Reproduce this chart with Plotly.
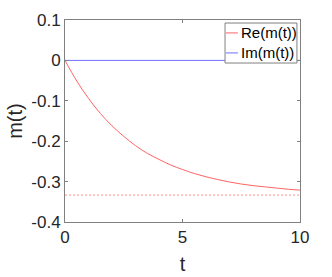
import plotly.graph_objects as go

t_vals = [0, 0.5, 1, 1.5, 2, 2.5, 3, 3.5, 4, 4.5, 5, 5.5, 6, 6.5, 7, 7.5, 8, 8.5, 9, 9.5, 10]
re_vals = [0, -0.051, -0.094, -0.131, -0.162, -0.188, -0.211, -0.230, -0.245, -0.259, -0.270,
           -0.280, -0.288, -0.295, -0.301, -0.306, -0.310, -0.313, -0.316, -0.319, -0.321]
im_vals = [0] * len(t_vals)
asymptote = -0.3333
x_ticks = [0, 5, 10]
y_ticks = [0.1, 0, -0.1, -0.2, -0.3, -0.4]
y_ticklabels = ["0.1", "0", "-0.1", "-0.2", "-0.3", "-0.4"]
legend_names = ["Re(m(t))", "Im(m(t))"]

font_family = "Liberation Sans, Arial, sans-serif"
txt = "#262626"
axc = "#808080"
red = "#ff6464"
blue = "#6e6eff"

fig = go.Figure()
fig.add_trace(go.Scatter(x=t_vals, y=re_vals, mode="lines", name=legend_names[0],
                         showlegend=False, line=dict(color=red, width=1, shape="spline")))
fig.add_trace(go.Scatter(x=t_vals, y=im_vals, mode="lines", name=legend_names[1],
                         showlegend=False, line=dict(color=blue, width=1)))
fig.add_trace(go.Scatter(x=[t_vals[0], t_vals[-1]], y=[asymptote, asymptote], mode="lines",
                         showlegend=False, line=dict(color="#ff9090", width=1, dash="2px,2px")))

# custom MATLAB-style legend box (paper coordinates)
shapes = [dict(type="rect", xref="paper", yref="paper", x0=0.681, x1=0.987, y0=0.787, y1=0.985,
               line=dict(color=axc, width=1), fillcolor="white", layer="above")]
annotations = []
for name, col, yy in zip(legend_names, [red, blue], [0.936, 0.837]):
    shapes.append(dict(type="line", xref="paper", yref="paper", x0=0.685, x1=0.736, y0=yy, y1=yy,
                       line=dict(color=col, width=1), layer="above"))
    annotations.append(dict(text=name, xref="paper", yref="paper", x=0.742, y=yy,
                            xanchor="left", yanchor="middle", showarrow=False,
                            font=dict(size=15, color="black")))

fig.update_layout(
    width=332, height=277,
    margin=dict(l=65, r=32, t=20, b=55, autoexpand=False),
    paper_bgcolor="white", plot_bgcolor="white",
    font=dict(family=font_family, color=txt, size=17),
    showlegend=False,
    shapes=shapes, annotations=annotations,
)
fig.update_xaxes(range=[0, 10], tickvals=x_ticks, ticks="inside", ticklen=3,
                 tickcolor=axc, showline=True, linecolor=axc, linewidth=1, mirror="ticks",
                 showgrid=False, zeroline=False, automargin=False,
                 title=dict(text="t", font=dict(size=20), standoff=10))
fig.update_yaxes(range=[-0.4, 0.1], tickvals=y_ticks, ticktext=y_ticklabels, ticks="inside",
                 ticklen=3, tickcolor=axc, showline=True, linecolor=axc, linewidth=1,
                 mirror="ticks", showgrid=False, zeroline=False, automargin=False,
                 title=dict(text="m(t)", font=dict(size=20), standoff=3))

fig.write_html("out.html", config={"displayModeBar": False},
               post_script="document.body.style.margin='0';")
